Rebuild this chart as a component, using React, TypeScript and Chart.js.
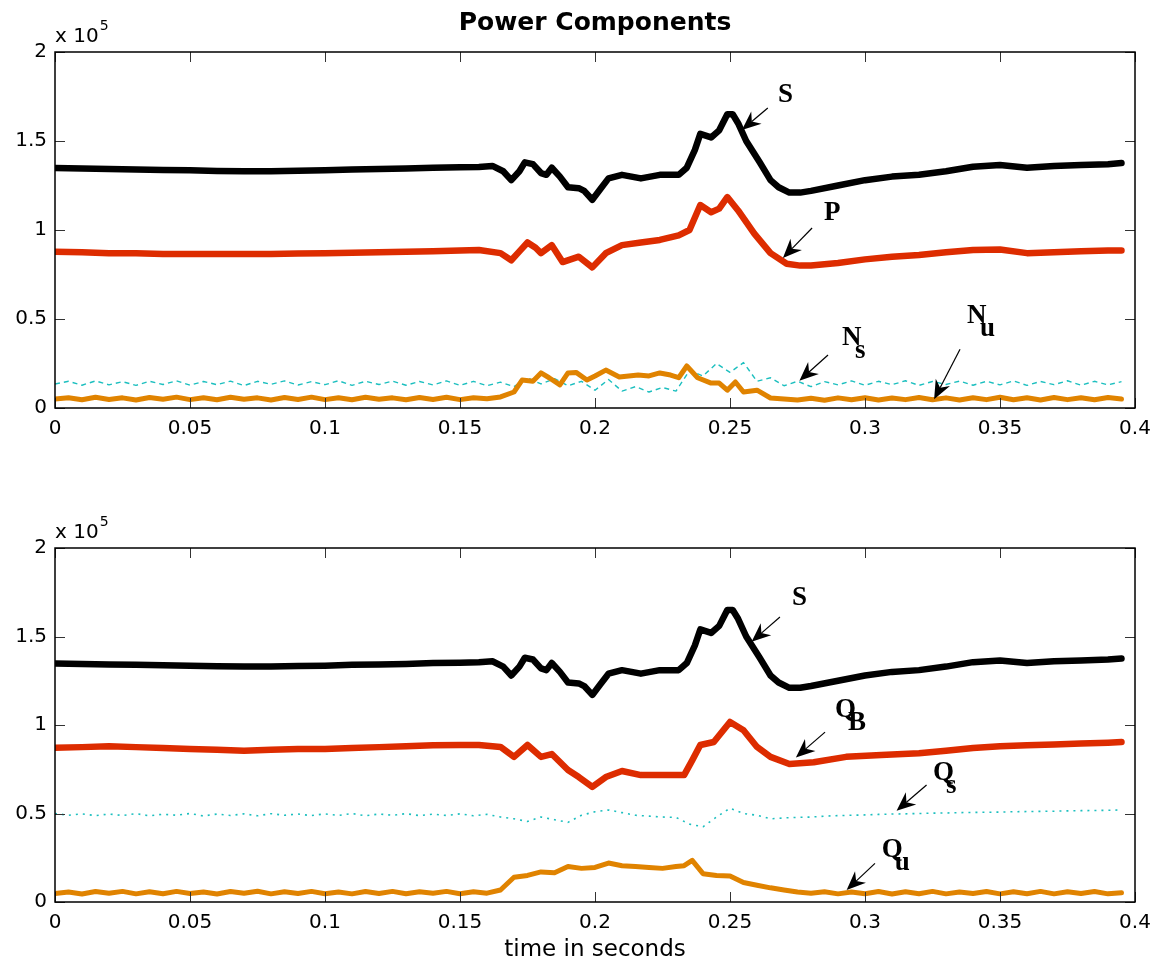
import React, { useEffect, useRef } from "react";
import { Chart, registerables } from "chart.js";

Chart.register(...registerables);

// ---------- data (time in s, values in units of 10^5) ----------
const timeS = [0, 0.01, 0.02, 0.03, 0.04, 0.05, 0.06, 0.07, 0.08, 0.09, 0.1, 0.11, 0.12, 0.13, 0.14, 0.15,
  0.157, 0.162, 0.166, 0.169, 0.172, 0.174, 0.177, 0.18, 0.182, 0.184,
  0.187, 0.19, 0.194, 0.196, 0.199, 0.202, 0.205, 0.21, 0.217, 0.224,
  0.231, 0.234, 0.237, 0.239, 0.243, 0.246, 0.249, 0.251, 0.253, 0.256,
  0.261, 0.265, 0.268, 0.272, 0.276, 0.28,
  0.29, 0.3, 0.31, 0.32, 0.33, 0.34, 0.35, 0.36, 0.37, 0.38, 0.39, 0.395];
const valS = [1.348, 1.345, 1.342, 1.34, 1.337, 1.335, 1.332, 1.33, 1.33, 1.333, 1.335, 1.34, 1.342, 1.345, 1.35, 1.352,
  1.354, 1.36, 1.33, 1.28, 1.33, 1.38, 1.37, 1.32, 1.31, 1.35,
  1.3, 1.24, 1.235, 1.22, 1.17, 1.23, 1.29, 1.31, 1.29, 1.31,
  1.31, 1.35, 1.45, 1.54, 1.52, 1.56, 1.65, 1.65, 1.6, 1.5,
  1.38, 1.28, 1.24, 1.21, 1.21, 1.22,
  1.25, 1.28, 1.3, 1.31, 1.33, 1.355, 1.365, 1.35, 1.36, 1.365, 1.37, 1.376];

const timeP = [0, 0.01, 0.02, 0.03, 0.04, 0.05, 0.06, 0.07, 0.08, 0.09, 0.1, 0.11, 0.12, 0.13, 0.14, 0.15,
  0.157, 0.165, 0.169, 0.172, 0.175, 0.178, 0.18, 0.184, 0.188, 0.194,
  0.199, 0.204, 0.21, 0.217, 0.224, 0.231, 0.235, 0.239, 0.243, 0.246,
  0.249, 0.253, 0.259, 0.265, 0.271, 0.276, 0.28,
  0.29, 0.3, 0.31, 0.32, 0.33, 0.34, 0.35, 0.36, 0.37, 0.38, 0.39, 0.395];
const valP = [0.878, 0.875, 0.87, 0.87, 0.865, 0.865, 0.865, 0.865, 0.865, 0.868, 0.87, 0.872, 0.875, 0.878, 0.88, 0.885,
  0.888, 0.87, 0.83, 0.88, 0.93, 0.9, 0.87, 0.915, 0.82, 0.85,
  0.79, 0.87, 0.915, 0.93, 0.944, 0.97, 1.0, 1.14, 1.1, 1.12,
  1.185, 1.11, 0.98, 0.87, 0.81, 0.8, 0.8,
  0.815, 0.835, 0.85, 0.86, 0.875, 0.888, 0.89, 0.87, 0.875, 0.88, 0.885, 0.885];

const timeQB = [0, 0.01, 0.02, 0.03, 0.04, 0.05, 0.06, 0.07, 0.08, 0.09, 0.1, 0.11, 0.12, 0.13, 0.14, 0.15,
  0.157, 0.165, 0.17, 0.175, 0.18, 0.184, 0.19, 0.194, 0.199, 0.204,
  0.21, 0.217, 0.224, 0.233, 0.236, 0.239, 0.244, 0.25, 0.255, 0.26,
  0.265, 0.272, 0.281,
  0.293, 0.306, 0.32, 0.33, 0.34, 0.35, 0.36, 0.37, 0.38, 0.39, 0.395];
const valQB = [0.872, 0.875, 0.88, 0.875, 0.87, 0.865, 0.86, 0.855, 0.86, 0.865, 0.865, 0.87, 0.875, 0.88, 0.885, 0.887,
  0.887, 0.876, 0.82, 0.887, 0.82, 0.836, 0.746, 0.706, 0.65, 0.706,
  0.74, 0.717, 0.717, 0.717, 0.8, 0.887, 0.904, 1.017, 0.97, 0.876,
  0.82, 0.78, 0.79,
  0.82, 0.83, 0.84, 0.855, 0.87, 0.88, 0.885, 0.89, 0.895, 0.9, 0.904];

const timeNu = [0, 0.005, 0.01, 0.015, 0.02, 0.025, 0.03, 0.035, 0.04, 0.045, 0.05, 0.055, 0.06, 0.065, 0.07, 0.075,
  0.08, 0.085, 0.09, 0.095, 0.1, 0.105, 0.11, 0.115, 0.12, 0.125, 0.13, 0.135, 0.14, 0.145, 0.15, 0.155, 0.16,
  0.165, 0.17, 0.173, 0.177, 0.18, 0.183, 0.187, 0.19, 0.193, 0.197, 0.2, 0.204, 0.209, 0.216, 0.22, 0.224,
  0.228, 0.231, 0.234, 0.238, 0.243, 0.246, 0.249, 0.252, 0.255, 0.26, 0.265, 0.27, 0.275,
  0.28, 0.285, 0.29, 0.295, 0.3, 0.305, 0.31, 0.315, 0.32, 0.325, 0.33, 0.335, 0.34, 0.345, 0.35, 0.355,
  0.36, 0.365, 0.37, 0.375, 0.38, 0.385, 0.39, 0.395];
const valNu = [0.05, 0.058, 0.046, 0.06, 0.048, 0.057, 0.045, 0.059, 0.049, 0.061, 0.047, 0.058, 0.046, 0.06, 0.049, 0.057,
  0.045, 0.059, 0.048, 0.061, 0.047, 0.058, 0.046, 0.06, 0.049, 0.057, 0.046, 0.059, 0.048, 0.06, 0.047, 0.058, 0.052,
  0.062, 0.09, 0.157, 0.15, 0.197, 0.17, 0.13, 0.197, 0.2, 0.157, 0.18, 0.213, 0.174, 0.185, 0.18, 0.197,
  0.185, 0.17, 0.236, 0.17, 0.14, 0.14, 0.1, 0.146, 0.09, 0.1, 0.056, 0.05, 0.045,
  0.055, 0.044, 0.057, 0.046, 0.058, 0.045, 0.056, 0.047, 0.059, 0.046, 0.057, 0.045, 0.058, 0.047, 0.06, 0.046,
  0.058, 0.045, 0.059, 0.047, 0.058, 0.046, 0.059, 0.05];

const timeQu = [0, 0.005, 0.01, 0.015, 0.02, 0.025, 0.03, 0.035, 0.04, 0.045, 0.05, 0.055, 0.06, 0.065, 0.07, 0.075,
  0.08, 0.085, 0.09, 0.095, 0.1, 0.105, 0.11, 0.115, 0.12, 0.125, 0.13, 0.135, 0.14, 0.145, 0.15, 0.155, 0.16,
  0.165, 0.17, 0.175, 0.18, 0.185, 0.19, 0.195, 0.2, 0.205, 0.21, 0.215, 0.22, 0.225, 0.23, 0.233, 0.236,
  0.24, 0.245, 0.25, 0.255, 0.26, 0.265, 0.27, 0.275,
  0.28, 0.285, 0.29, 0.295, 0.3, 0.305, 0.31, 0.315, 0.32, 0.325, 0.33, 0.335, 0.34, 0.345, 0.35, 0.355,
  0.36, 0.365, 0.37, 0.375, 0.38, 0.385, 0.39, 0.395];
const valQu = [0.048, 0.057, 0.045, 0.059, 0.049, 0.06, 0.046, 0.058, 0.047, 0.06, 0.048, 0.057, 0.045, 0.059, 0.049, 0.061,
  0.046, 0.058, 0.048, 0.06, 0.047, 0.057, 0.046, 0.059, 0.048, 0.06, 0.047, 0.058, 0.049, 0.06, 0.047, 0.058, 0.05,
  0.068, 0.14, 0.15, 0.17, 0.165, 0.2, 0.19, 0.195, 0.22, 0.205, 0.2, 0.195, 0.19, 0.2, 0.205, 0.235,
  0.16, 0.15, 0.147, 0.11, 0.095, 0.08, 0.068, 0.056,
  0.05, 0.058, 0.046, 0.057, 0.047, 0.059, 0.045, 0.058, 0.047, 0.06, 0.046, 0.057, 0.048, 0.059, 0.046, 0.058,
  0.047, 0.06, 0.046, 0.058, 0.048, 0.059, 0.046, 0.052];

const timeOsc = [0, 0.005, 0.01, 0.015, 0.02, 0.025, 0.03, 0.035, 0.04, 0.045, 0.05, 0.055, 0.06, 0.065, 0.07, 0.075,
  0.08, 0.085, 0.09, 0.095, 0.1, 0.105, 0.11, 0.115, 0.12, 0.125, 0.13, 0.135, 0.14, 0.145, 0.15, 0.155,
  0.16, 0.165, 0.17, 0.175, 0.18, 0.185, 0.19, 0.195, 0.2, 0.205, 0.21, 0.215, 0.22, 0.225, 0.23, 0.235,
  0.24, 0.245, 0.25, 0.255, 0.26, 0.265, 0.27, 0.275, 0.28, 0.285, 0.29, 0.295, 0.3, 0.305, 0.31, 0.315,
  0.32, 0.325, 0.33, 0.335, 0.34, 0.345, 0.35, 0.355, 0.36, 0.365, 0.37, 0.375, 0.38, 0.385, 0.39, 0.395];
const valNs = [0.135, 0.15, 0.128, 0.152, 0.13, 0.148, 0.127, 0.15, 0.132, 0.153, 0.128, 0.149, 0.131, 0.151, 0.126, 0.15,
  0.133, 0.152, 0.129, 0.148, 0.131, 0.153, 0.127, 0.15, 0.132, 0.151, 0.128, 0.149, 0.13, 0.152, 0.127, 0.15,
  0.125, 0.145, 0.12, 0.17, 0.135, 0.165, 0.125, 0.15, 0.1, 0.16, 0.095, 0.12, 0.09, 0.115, 0.095, 0.21,
  0.18, 0.25, 0.2, 0.255, 0.15, 0.17, 0.125, 0.15, 0.12, 0.148, 0.13, 0.152, 0.128, 0.15, 0.131, 0.153,
  0.127, 0.149, 0.132, 0.151, 0.128, 0.15, 0.13, 0.152, 0.127, 0.149, 0.131, 0.153, 0.128, 0.15, 0.13, 0.148];
const valQs = [0.5, 0.49, 0.498, 0.488, 0.497, 0.489, 0.499, 0.487, 0.496, 0.49, 0.5, 0.486, 0.497, 0.489, 0.498, 0.487,
  0.499, 0.49, 0.497, 0.488, 0.498, 0.489, 0.5, 0.487, 0.497, 0.49, 0.499, 0.488, 0.496, 0.489, 0.498, 0.487,
  0.495, 0.48, 0.47, 0.455, 0.48, 0.465, 0.45, 0.49, 0.51, 0.52, 0.505, 0.49, 0.485, 0.48, 0.478, 0.44,
  0.425, 0.48, 0.53, 0.5, 0.49, 0.47, 0.475, 0.478, 0.48, 0.485, 0.488, 0.49, 0.492, 0.495, 0.497, 0.498,
  0.5, 0.502, 0.503, 0.505, 0.506, 0.507, 0.508, 0.51, 0.511, 0.512, 0.513, 0.515, 0.516, 0.517, 0.518, 0.52];

const xTickValues = [0, 0.05, 0.1, 0.15, 0.2, 0.25, 0.3, 0.35, 0.4];
const xTickLabels = ["0", "0.05", "0.1", "0.15", "0.2", "0.25", "0.3", "0.35", "0.4"];
const yTickValues = [0, 0.5, 1, 1.5, 2];
const yTickLabels = ["0", "0.5", "1", "1.5", "2"];

// annotation labels: text anchor (t, v), arrow tail and head in data coordinates
const topNotes = [
  { text: "S", sub: "", tx: 0.2678, ty: 1.719, ax: 0.264, ay: 1.685, hx: 0.2544, hy: 1.562 },
  { text: "P", sub: "", tx: 0.2848, ty: 1.056, ax: 0.2804, ay: 1.011, hx: 0.2696, hy: 0.843 },
  { text: "N", sub: "s", tx: 0.2915, ty: 0.354, ax: 0.2863, ay: 0.298, hx: 0.2757, hy: 0.153 },
  { text: "N", sub: "u", tx: 0.3378, ty: 0.478, ax: 0.3352, ay: 0.33, hx: 0.3256, hy: 0.049 },
];
const bottomNotes = [
  { text: "S", sub: "", tx: 0.273, ty: 1.678, ax: 0.2685, ay: 1.61, hx: 0.258, hy: 1.471 },
  { text: "Q", sub: "B", tx: 0.2889, ty: 1.045, ax: 0.2852, ay: 0.96, hx: 0.2744, hy: 0.817 },
  { text: "Q", sub: "s", tx: 0.3252, ty: 0.689, ax: 0.3228, ay: 0.661, hx: 0.3117, hy: 0.516 },
  { text: "Q", sub: "u", tx: 0.3062, ty: 0.254, ax: 0.3037, ay: 0.218, hx: 0.2932, hy: 0.068 },
];

const BLACK = "#000000";
const RED = "#DD2C00";
const ORANGE = "#E08300";
const CYAN = "#1CBFBF";

const W = 1156;
const TOP_H = 475;
const BOT_H = 491;

function pts(t: number[], v: number[]) {
  return t.map((x, i) => ({ x, y: v[i] }));
}

function lineDs(label: string, t: number[], v: number[], color: string, width: number, dash: number[] = []) {
  return {
    label,
    data: pts(t, v),
    borderColor: color,
    backgroundColor: color,
    borderWidth: width,
    borderDash: dash,
    pointRadius: 0,
    tension: 0,
    fill: false,
    borderJoinStyle: "round" as const,
    borderCapStyle: dash.length ? ("butt" as const) : ("round" as const),
  };
}

type Note = { text: string; sub: string; tx: number; ty: number; ax: number; ay: number; hx: number; hy: number };

function framePlugin(notes: Note[], title: string, xlabel: string) {
  return {
    id: "frame",
    afterDraw(chart: any) {
      const { ctx, chartArea } = chart;
      const { left, right, top, bottom } = chartArea;
      const xs = chart.scales.x;
      const ys = chart.scales.y;
      ctx.save();
      // inward ticks
      ctx.strokeStyle = "#333";
      ctx.lineWidth = 1;
      const tl = 10;
      xTickValues.forEach((v) => {
        const p = Math.round(xs.getPixelForValue(v)) + 0.5;
        ctx.beginPath();
        ctx.moveTo(p, bottom); ctx.lineTo(p, bottom - tl);
        ctx.moveTo(p, top); ctx.lineTo(p, top + tl);
        ctx.stroke();
      });
      yTickValues.forEach((v) => {
        const p = Math.round(ys.getPixelForValue(v)) + 0.5;
        ctx.beginPath();
        ctx.moveTo(left, p); ctx.lineTo(left + tl, p);
        ctx.moveTo(right, p); ctx.lineTo(right - tl, p);
        ctx.stroke();
      });
      // box
      ctx.strokeStyle = "#000";
      ctx.lineWidth = 1.5;
      ctx.strokeRect(left, top, right - left, bottom - top);

      // multiplier
      ctx.fillStyle = "#000";
      ctx.textAlign = "left";
      ctx.textBaseline = "alphabetic";
      ctx.font = "20px 'DejaVu Sans'";
      ctx.fillText("x 10", left, top - 10);
      const w = ctx.measureText("x 10").width;
      ctx.font = "14px 'DejaVu Sans'";
      ctx.fillText("5", left + w + 1, top - 22);

      // annotations
      notes.forEach((n) => {
        const tx = xs.getPixelForValue(n.tx);
        const ty = ys.getPixelForValue(n.ty);
        ctx.font = "bold 27px 'Liberation Serif'";
        ctx.fillStyle = "#000";
        ctx.fillText(n.text, tx, ty);
        if (n.sub) {
          ctx.fillText(n.sub, tx + 13, ty + 13);
        }
        const ax = xs.getPixelForValue(n.ax);
        const ay = ys.getPixelForValue(n.ay);
        const hx = xs.getPixelForValue(n.hx);
        const hy = ys.getPixelForValue(n.hy);
        const dx = hx - ax;
        const dy = hy - ay;
        const len = Math.hypot(dx, dy);
        const ux = dx / len;
        const uy = dy / len;
        const nx = -uy;
        const ny = ux;
        const L = 19;
        const HW = 8;
        const notch = 6;
        const bx = hx - ux * L;
        const by = hy - uy * L;
        const mx = hx - ux * (L - notch);
        const my = hy - uy * (L - notch);
        ctx.strokeStyle = "#000";
        ctx.lineWidth = 1.2;
        ctx.beginPath();
        ctx.moveTo(ax, ay);
        ctx.lineTo(mx, my);
        ctx.stroke();
        ctx.beginPath();
        ctx.moveTo(hx, hy);
        ctx.lineTo(bx + nx * HW, by + ny * HW);
        ctx.lineTo(mx, my);
        ctx.lineTo(bx - nx * HW, by - ny * HW);
        ctx.closePath();
        ctx.fill();
      });

      if (title) {
        ctx.font = "bold 25px 'DejaVu Sans'";
        ctx.textAlign = "center";
        ctx.fillText(title, (left + right) / 2, 30);
      }
      if (xlabel) {
        ctx.font = "23px 'DejaVu Sans'";
        ctx.textAlign = "center";
        ctx.fillText(xlabel, (left + right) / 2, chart.height - 10);
      }
      ctx.restore();
    },
  };
}

function makeChart(canvas: HTMLCanvasElement, datasets: any[], notes: Note[], padTop: number, axisH: number, title: string, xlabel: string) {
  const tickFont = { family: "'DejaVu Sans'", size: 20 };
  return new Chart(canvas, {
    type: "line",
    data: { datasets },
    options: {
      animation: false,
      responsive: false,
      events: [],
      layout: { padding: { top: padTop, right: 21, left: 0, bottom: 0 } },
      plugins: { legend: { display: false }, tooltip: { enabled: false }, title: { display: false } },
      scales: {
        x: {
          type: "linear",
          min: 0,
          max: 0.4,
          grid: { display: false, drawTicks: false, tickLength: 0 },
          border: { display: false },
          afterFit: (s: any) => { s.height = axisH; s.paddingLeft = 0; s.paddingRight = 0; },
          afterBuildTicks: (s: any) => { s.ticks = xTickValues.map((v) => ({ value: v })); },
          ticks: {
            padding: 9,
            color: "#000",
            font: tickFont,
            maxRotation: 0,
            autoSkip: false,
            callback: (v: any) => xTickLabels[xTickValues.indexOf(Number(v))] ?? "",
          },
        },
        y: {
          type: "linear",
          min: 0,
          max: 2,
          grid: { display: false, drawTicks: false, tickLength: 0 },
          border: { display: false },
          afterFit: (s: any) => { s.width = 55; s.paddingTop = 0; s.paddingBottom = 0; },
          afterBuildTicks: (s: any) => { s.ticks = yTickValues.map((v) => ({ value: v })); },
          ticks: {
            padding: 8,
            color: "#000",
            font: tickFont,
            autoSkip: false,
            callback: (v: any) => yTickLabels[yTickValues.indexOf(Number(v))] ?? "",
          },
        },
      },
    } as any,
    plugins: [framePlugin(notes, title, xlabel)],
  });
}

export default function App() {
  const topRef = useRef<HTMLCanvasElement>(null);
  const botRef = useRef<HTMLCanvasElement>(null);

  useEffect(() => {
    if (!topRef.current || !botRef.current) return;
    const topDs = [
      lineDs("S", timeS, valS, BLACK, 6.5),
      lineDs("P", timeP, valP, RED, 6.5),
      lineDs("Nu", timeNu, valNu, ORANGE, 5),
      lineDs("Ns", timeOsc, valNs, CYAN, 1.4, [5, 4]),
    ];
    const botDs = [
      lineDs("S", timeS, valS, BLACK, 6.5),
      lineDs("QB", timeQB, valQB, RED, 6.5),
      lineDs("Qu", timeQu, valQu, ORANGE, 5),
      lineDs("Qs", timeOsc, valQs, CYAN, 1.6, [2, 5]),
    ];
    const c1 = makeChart(topRef.current, topDs, topNotes, 52, TOP_H - 408, "Power Components", "");
    const c2 = makeChart(botRef.current, botDs, bottomNotes, 548 - TOP_H, BOT_H - (902 - TOP_H), "", "time in seconds");
    return () => {
      c1.destroy();
      c2.destroy();
    };
  }, []);

  return (
    <div style={{ position: "absolute", left: 0, top: 0, width: W, height: TOP_H + BOT_H, background: "#fff" }}>
      <canvas ref={topRef} width={W} height={TOP_H} style={{ position: "absolute", left: 0, top: 0, width: W, height: TOP_H }} />
      <canvas ref={botRef} width={W} height={BOT_H} style={{ position: "absolute", left: 0, top: TOP_H, width: W, height: BOT_H }} />
    </div>
  );
}
